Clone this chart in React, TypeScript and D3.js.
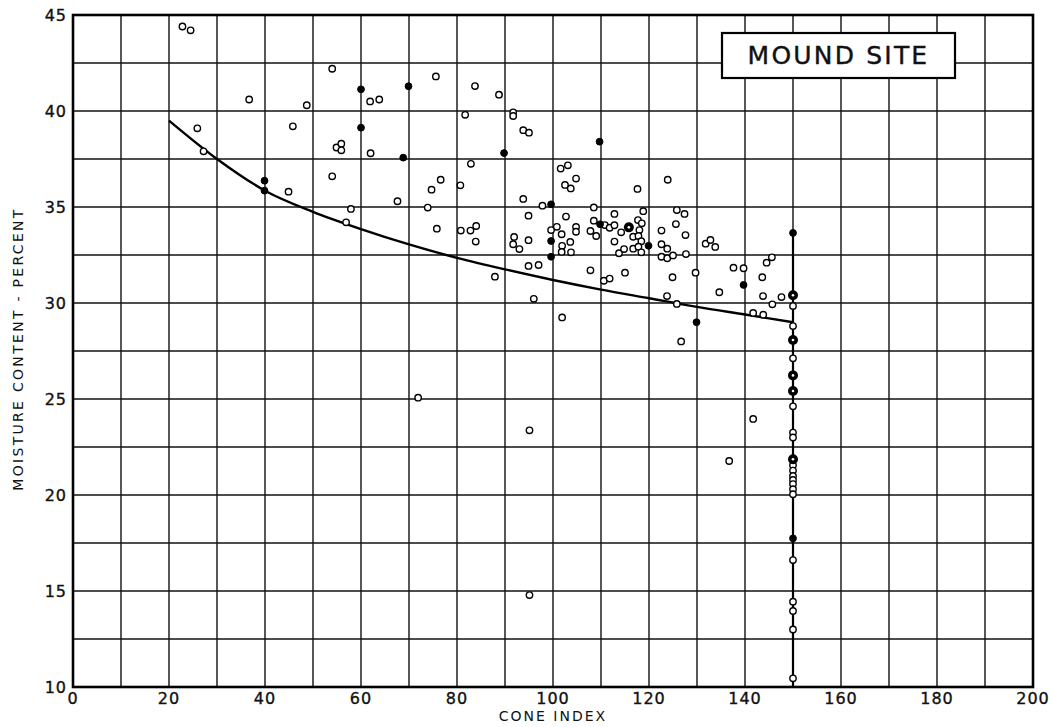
import React from "react";
import * as d3 from "d3";

// axis ticks
const xTicks = [0, 20, 40, 60, 80, 100, 120, 140, 160, 180, 200];
const yTicks = [10, 15, 20, 25, 30, 35, 40, 45];

// fitted curve
const curvePts: [number, number][] = [
	[20, 39.5], [30, 37.5], [40, 35.85], [50, 34.75], [60, 33.85], [70, 33.05],
	[80, 32.35], [90, 31.75], [100, 31.2], [110, 30.7], [120, 30.25], [130, 29.8],
	[140, 29.4], [150, 29.0],
];

// vertical stem at cone index 150
const stemX = 150;
const stemTop = 33.65;

// open circles (cone index, moisture %)
const openPts: [number, number][] = [
	[22.8, 44.4], [24.5, 44.2], [25.9, 39.1], [27.2, 37.9],
	[36.7, 40.6], [45.8, 39.2], [48.7, 40.3], [44.9, 35.8],
	[54.0, 42.2], [54.0, 36.6], [54.9, 38.1], [55.9, 38.3], [55.9, 37.95],
	[61.9, 40.5], [63.8, 40.6], [62.0, 37.8], [57.9, 34.9], [56.9, 34.2], [67.6, 35.3],
	[75.6, 41.8], [83.75, 41.3], [88.75, 40.85], [81.7, 39.8], [91.7, 39.93], [91.7, 39.74],
	[93.8, 39.0], [95.0, 38.87], [82.9, 37.25], [101.6, 37.0], [103.1, 37.17], [104.8, 36.48],
	[102.5, 36.15], [103.7, 35.97], [76.6, 36.42], [74.7, 35.9], [80.7, 36.13], [117.6, 35.94],
	[123.9, 36.42], [73.9, 34.97], [93.8, 35.42], [97.8, 35.07], [94.9, 34.55], [102.7, 34.5],
	[108.5, 34.98], [112.8, 34.64], [118.8, 34.78], [125.8, 34.84], [127.4, 34.64],
	[75.8, 33.87], [80.8, 33.77], [82.8, 33.77], [84.0, 34.01], [83.9, 33.2],
	[91.9, 33.44], [91.7, 33.06], [93.0, 32.81], [94.9, 33.27],
	[99.6, 33.8], [100.8, 33.97], [101.8, 33.58], [104.8, 33.96], [104.8, 33.71], [101.9, 32.98],
	[103.6, 33.18], [101.8, 32.66], [103.75, 32.64],
	[107.8, 33.75], [108.5, 34.29], [109.0, 33.49], [110.8, 34.06], [111.8, 33.92], [112.8, 34.05],
	[114.2, 33.68], [117.7, 34.32], [118.5, 34.15], [118.0, 33.8], [116.7, 33.45], [117.8, 33.49],
	[118.4, 33.22], [112.8, 33.2], [113.75, 32.59], [114.8, 32.81], [116.7, 32.83], [117.8, 32.93],
	[118.4, 32.64], [122.6, 33.77], [125.6, 34.11], [127.6, 33.54], [122.6, 33.06], [123.8, 32.83],
	[122.6, 32.41], [123.8, 32.33], [125.0, 32.48], [127.7, 32.55],
	[131.8, 33.09], [132.8, 33.28], [133.8, 32.92],
	[94.9, 31.93], [97.0, 31.98], [107.8, 31.7], [110.6, 31.16], [111.8, 31.27], [115.0, 31.58],
	[124.9, 31.34], [129.7, 31.58], [87.9, 31.37], [96.0, 30.22], [123.75, 30.36], [125.8, 29.95],
	[101.9, 29.25], [126.7, 28.0],
	[137.6, 31.84], [139.7, 31.81], [145.6, 32.38], [144.5, 32.1], [143.6, 31.34], [134.65, 30.56],
	[143.75, 30.36], [147.6, 30.31], [145.7, 29.93], [141.7, 29.48], [143.8, 29.39],
	[71.9, 25.07], [95.1, 23.37], [95.1, 14.79], [141.7, 23.96], [136.7, 21.77],
	[150, 29.84], [150, 28.8], [150, 27.12], [150, 24.62], [150, 23.25], [150, 23.0], [150, 21.55],
	[150, 21.27], [150, 20.99], [150, 20.78], [150, 20.57], [150, 20.3], [150, 20.04], [150, 16.61],
	[150, 14.44], [150, 13.96], [150, 13.0], [150, 10.45],
];

// solid dots
const filledPts: [number, number][] = [
	[39.9, 36.37], [39.9, 35.85], [60, 41.13], [60, 39.13], [69.9, 41.29], [68.8, 37.57],
	[89.8, 37.81], [99.6, 35.14], [99.6, 33.23], [99.6, 32.41], [109.7, 38.4], [109.8, 34.1],
	[119.9, 32.98], [129.9, 29.0], [139.7, 30.94], [150, 33.65], [150, 17.74],
];

// larger (doubled) dots
const largePts: [number, number][] = [
	[115.8, 33.94], [150, 30.4], [150, 28.07], [150, 26.23], [150, 25.42], [150, 21.86],
];

const FONT = "'DejaVu Sans', Verdana, sans-serif";

export default function App() {
	const width = 1052,
		height = 727;
	const left = 73,
		right = 1033,
		top = 15,
		bottom = 687;

	const x = d3.scaleLinear().domain([0, 200]).range([left, right]);
	const y = d3.scaleLinear().domain([10, 45]).range([bottom, top]);

	const vGrid = d3.range(0, 201, 10);
	const hGrid = d3.range(10, 45.01, 2.5);

	const line = d3
		.line<[number, number]>()
		.x((d) => x(d[0]))
		.y((d) => y(d[1]))
		.curve(d3.curveMonotoneX);

	return (
		<svg
			width={width}
			height={height}
			style={{ position: "absolute", left: 0, top: 0, background: "#fff" }}
			fontFamily={FONT}
		>
			{/* grid */}
			<g stroke="#111" strokeWidth={1.4}>
				{vGrid.map((v) => (
					<line key={"v" + v} x1={x(v)} x2={x(v)} y1={top} y2={bottom} />
				))}
				{hGrid.map((v) => (
					<line key={"h" + v} x1={left} x2={right} y1={y(v)} y2={y(v)} />
				))}
			</g>
			<rect x={left} y={top} width={right - left} height={bottom - top} fill="none" stroke="#000" strokeWidth={2.6} />

			{/* tick labels */}
			<g fontSize={16} fill="#111" stroke="#111" strokeWidth={0.35} letterSpacing={1}>
				{yTicks.map((t) => (
					<text key={"y" + t} x={left - 6} y={y(t)} dy="0.36em" textAnchor="end">
						{t}
					</text>
				))}
				{xTicks.map((t) => (
					<text key={"x" + t} x={x(t)} y={bottom + 17} textAnchor="middle">
						{t}
					</text>
				))}
			</g>

			{/* axis titles */}
			<text x={553} y={721} textAnchor="middle" fontSize={14} letterSpacing={2} fill="#111">
				CONE INDEX
			</text>
			<text
				transform={`translate(23, ${349}) rotate(-90)`}
				textAnchor="middle"
				fontSize={14}
				letterSpacing={2.3}
				fill="#111"
			>
				MOISTURE CONTENT - PERCENT
			</text>

			{/* curve and stem */}
			<path d={line(curvePts) || ""} fill="none" stroke="#000" strokeWidth={2.4} />
			<line x1={x(stemX)} x2={x(stemX)} y1={y(10)} y2={y(stemTop)} stroke="#000" strokeWidth={2.2} />

			{/* points */}
			<g fill="#fff" stroke="#000" strokeWidth={1.4}>
				{openPts.map((d, i) => (
					<circle key={"o" + i} cx={x(d[0])} cy={y(d[1])} r={3.2} />
				))}
			</g>
			<g fill="#000" stroke="#000" strokeWidth={1}>
				{filledPts.map((d, i) => (
					<circle key={"f" + i} cx={x(d[0])} cy={y(d[1])} r={3.4} />
				))}
			</g>
			<g>
				{largePts.map((d, i) => (
					<g key={"l" + i}>
						<circle cx={x(d[0])} cy={y(d[1])} r={5} fill="#000" />
						<circle cx={x(d[0])} cy={y(d[1])} r={1.3} fill="#fff" />
					</g>
				))}
			</g>

			{/* legend box */}
			<g>
				<rect x={722} y={33} width={233} height={45} fill="#fff" stroke="#000" strokeWidth={2.2} />
				<text x={838.5} y={64} textAnchor="middle" fontSize={25} letterSpacing={2.2} fill="#111" stroke="#111" strokeWidth={0.4}>
					MOUND SITE
				</text>
			</g>
		</svg>
	);
}
